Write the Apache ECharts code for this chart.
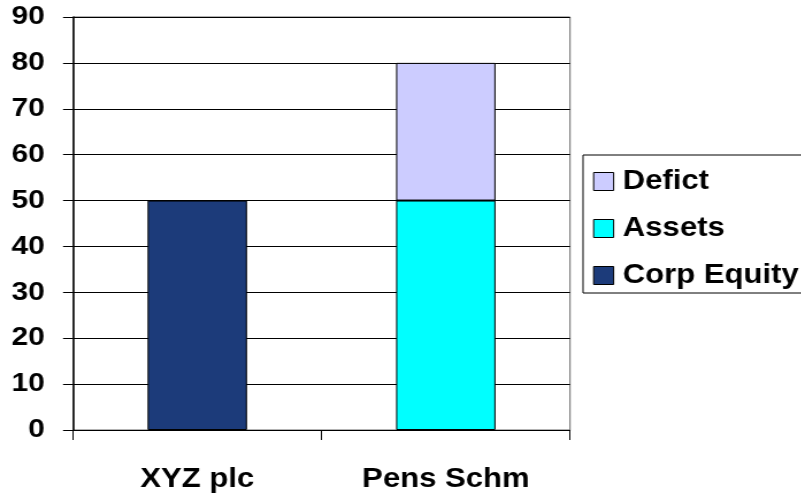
<!DOCTYPE html>
<html>
<head>
<meta charset="utf-8">
<script src="https://cdn.jsdelivr.net/npm/echarts@6/dist/echarts.min.js"></script>
<style>
  html, body { margin: 0; padding: 0; background: #fff; overflow: hidden; }
  /* chart is laid out narrower and widened horizontally, giving the broad lettering */
  #chart { width: 697px; height: 496px; transform: scaleX(1.15); transform-origin: 0 0; }
</style>
</head>
<body>
<div id="chart"></div>
<script>
const categories = ['XYZ plc', 'Pens Schm'];
const corpEquity = [50, null];
const assets = [null, 50];
const defict = [null, 30];
const legendOrder = ['Defict', 'Assets', 'Corp Equity'];

const FONT = '"Liberation Sans", Arial, sans-serif';
const chart = echarts.init(document.getElementById('chart'), null, { renderer: 'canvas' });

function barSeries(name, data, color) {
  return {
    name: name,
    type: 'bar',
    stack: 'total',
    data: data,
    barWidth: '40%',
    itemStyle: { color: color, borderColor: '#000', borderWidth: 1 },
    emphasis: { disabled: true }
  };
}

chart.setOption({
  animation: false,
  grid: {
    left: 63.5, right: 201.3, top: 17, bottom: 66,
    show: true, borderColor: '#666', borderWidth: 1, backgroundColor: 'transparent'
  },
  legend: {
    data: legendOrder,
    orient: 'vertical',
    left: 507, top: 155,
    padding: [13, 4, 4, 8.7],
    itemGap: 20,
    icon: 'rect',
    itemWidth: 17.4, itemHeight: 18,
    borderColor: '#000', borderWidth: 1,
    backgroundColor: '#fff',
    itemStyle: { borderColor: '#000', borderWidth: 1 },
    textStyle: {
      fontFamily: FONT, fontWeight: 'bold', fontSize: 27, color: '#000',
      lineHeight: 26, padding: [0, 0, 0, 3]
    },
    selectedMode: false
  },
  xAxis: {
    type: 'category',
    data: categories,
    axisLine: { lineStyle: { color: '#000', width: 1 } },
    axisTick: { show: true, length: 10, lineStyle: { color: '#000' } },
    axisLabel: {
      fontFamily: FONT, fontWeight: 'bold', fontSize: 27, color: '#000', margin: 36
    }
  },
  yAxis: {
    type: 'value',
    min: 0, max: 90, interval: 10,
    axisLine: { show: true, lineStyle: { color: '#000', width: 1.5 } },
    axisTick: { show: true, length: 8.7, lineStyle: { color: '#000' } },
    splitLine: { show: true, lineStyle: { color: '#000', width: 1 } },
    axisLabel: {
      fontFamily: FONT, fontWeight: 'bold', fontSize: 26, color: '#000', margin: 24.5
    }
  },
  series: [
    barSeries('Corp Equity', corpEquity, '#1c3b7a'),
    barSeries('Assets', assets, '#00ffff'),
    barSeries('Defict', defict, '#ccccff')
  ]
});
</script>
</body>
</html>
